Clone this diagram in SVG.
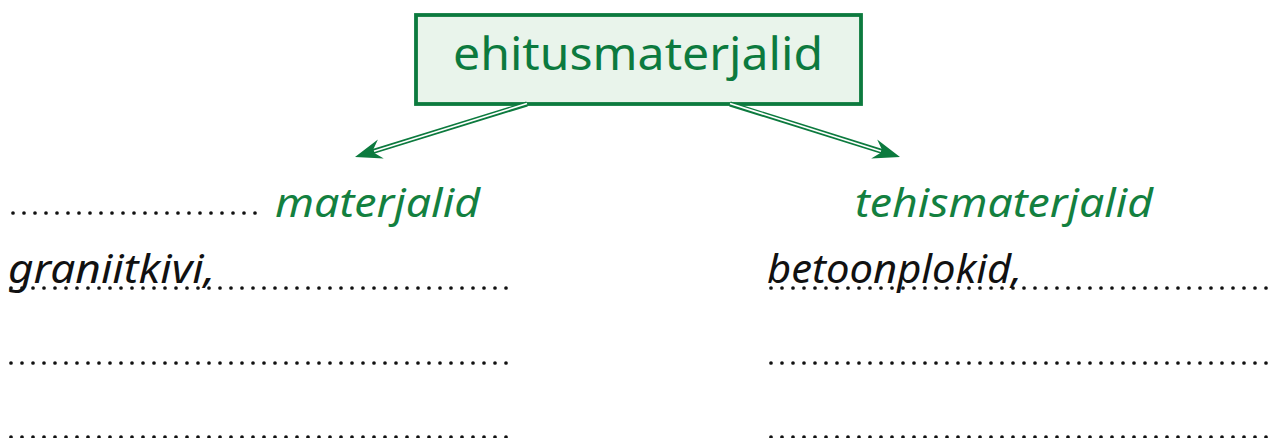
<svg xmlns="http://www.w3.org/2000/svg" width="1284" height="438" viewBox="0 0 1284 438">
  <style>
    .title { font-family: "Comic Sans MS", "Noto Sans", "DejaVu Sans", sans-serif; font-size: 46px; fill: #0c7a3e; }
    .hand { font-family: "Noto Sans", "DejaVu Sans", sans-serif; font-style: italic; font-size: 40px; }
    .green { fill: #13803f; }
    .ink { fill: #111111; }
    .dots { stroke: #111111; stroke-width: 3.7; stroke-linecap: round; stroke-dasharray: 0 11; fill: none; }
    .shaft { stroke: #0c7a3e; stroke-width: 5; fill: none; }
    .gap { stroke: #ffffff; stroke-width: 1.7; fill: none; }
    .head { fill: #0c7a3e; }
  </style>

  <rect width="1284" height="438" fill="#ffffff"/>

  <!-- top node -->
  <g id="node-ehitusmaterjalid">
    <rect x="416" y="15" width="445" height="89" fill="#e9f4eb" stroke="#0c7a3e" stroke-width="3.8"/>
    <text class="title" x="638" y="70" text-anchor="middle" textLength="370" lengthAdjust="spacingAndGlyphs">ehitusmaterjalid</text>
  </g>

  <!-- double-line arrows with swept heads -->
  <g id="connectors">
    <path class="shaft" d="M527,104 L370,152.4"/>
    <path class="gap" d="M527,103.5 L374,151.2"/>
    <polygon class="head" points="355,157 377.9,139.5 372.2,151.7 383.8,158.6"/>
    <path class="shaft" d="M730,104 L885,152.3"/>
    <path class="gap" d="M730,103.5 L881,151.2"/>
    <polygon class="head" points="900,157 877.2,139.5 882.8,151.6 871.2,158.5"/>
  </g>

  <!-- left branch -->
  <g id="node-materjalid">
    <line class="dots" x1="13" y1="213" x2="258" y2="213"/>
    <text class="hand green" x="275" y="217" textLength="205" lengthAdjust="spacingAndGlyphs">materjalid</text>
    <line class="dots" x1="11" y1="288" x2="517" y2="288"/>
    <text class="hand ink" x="8" y="283" font-size="44" textLength="207" lengthAdjust="spacingAndGlyphs">graniitkivi,</text>
    <line class="dots" x1="11" y1="363" x2="517" y2="363"/>
    <line class="dots" x1="11" y1="437" x2="517" y2="437"/>
  </g>

  <!-- right branch -->
  <g id="node-tehismaterjalid">
    <text class="hand green" x="855" y="217" textLength="298" lengthAdjust="spacingAndGlyphs">tehismaterjalid</text>
    <line class="dots" x1="771" y1="288" x2="1277" y2="288"/>
    <text class="hand ink" x="767" y="283" font-size="44" textLength="255" lengthAdjust="spacingAndGlyphs">betoonplokid,</text>
    <line class="dots" x1="771" y1="363" x2="1277" y2="363"/>
    <line class="dots" x1="771" y1="437" x2="1277" y2="437"/>
  </g>
</svg>
